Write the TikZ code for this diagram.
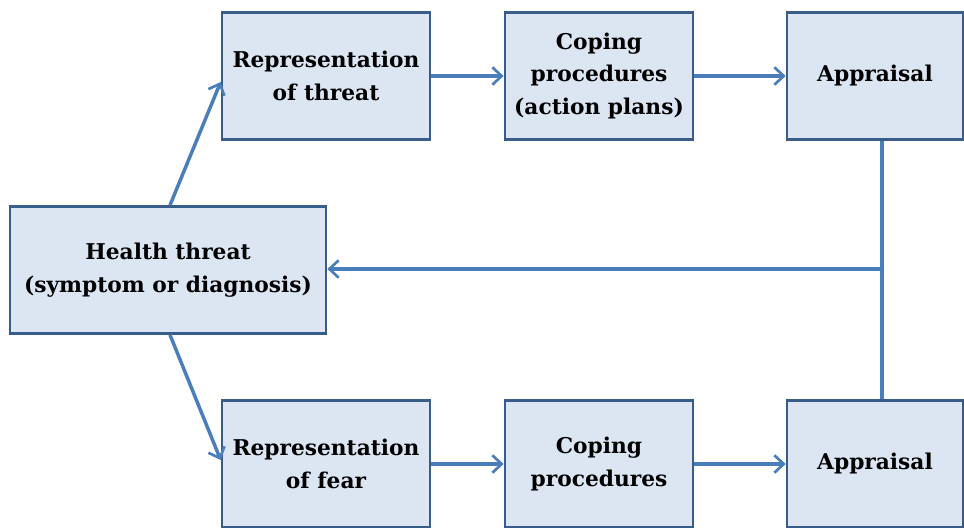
\documentclass[tikz,border=0pt]{standalone}
\usepackage{fontspec}
\setmainfont{DejaVu Serif}
\usetikzlibrary{arrows.meta,positioning}
\definecolor{boxfill}{HTML}{DCE6F2}
\definecolor{boxline}{HTML}{385D8A}
\definecolor{flow}{HTML}{4A7EBB}
\begin{document}
\begin{tikzpicture}[x=0.75pt,y=-0.75pt,
  stage/.style={draw=boxline,fill=boxfill,line width=2pt,inner sep=0pt,
    align=center,font=\bfseries\fontsize{16.3}{24.5}\selectfont},
  flowline/.style={draw=flow,line width=2.6pt},
  flowarrow/.style={flowline,-{Straight Barb[length=7pt,width=13pt,line width=2pt]}}]
\useasboundingbox (0,0) rectangle (964,528);
% upper path: threat representation
\node[stage,minimum width=208*0.75pt,minimum height=127*0.75pt] (rt) at (326,76) {Representation\\of threat};
\node[stage,minimum width=188*0.75pt,minimum height=127*0.75pt] (ct) at (599,76) {Coping\\procedures\\(action plans)};
\node[stage,minimum width=176*0.75pt,minimum height=127*0.75pt] (at) at (875,76) {Appraisal};
% source
\node[stage,minimum width=316*0.75pt,minimum height=127*0.75pt] (ht) at (168,270) {Health threat\\(symptom or diagnosis)};
% lower path: fear representation
\node[stage,minimum width=208*0.75pt,minimum height=127*0.75pt] (rf) at (326,464) {Representation\\of fear};
\node[stage,minimum width=188*0.75pt,minimum height=127*0.75pt] (cf) at (599,464) {Coping\\procedures};
\node[stage,minimum width=176*0.75pt,minimum height=127*0.75pt] (af) at (875,464) {Appraisal};
% feedback junction
\coordinate (j) at (882,269);
% connectors
\draw[flowarrow] (ht.north) ++(2,0) coordinate (hn) -- (rt.west |- 0,82);
\draw[flowarrow] (ht.south) ++(2,0) coordinate (hs) -- (rf.west |- 0,460);
\draw[flowarrow] (rt.east) -- (ct.west);
\draw[flowarrow] (ct.east) -- (at.west);
\draw[flowarrow] (rf.east) -- (cf.west);
\draw[flowarrow] (cf.east) -- (af.west);
\draw[flowline] (at.south -| j) -- (af.north -| j);
\draw[flowarrow] (j) -- (ht.east |- j);
\end{tikzpicture}
\end{document}
